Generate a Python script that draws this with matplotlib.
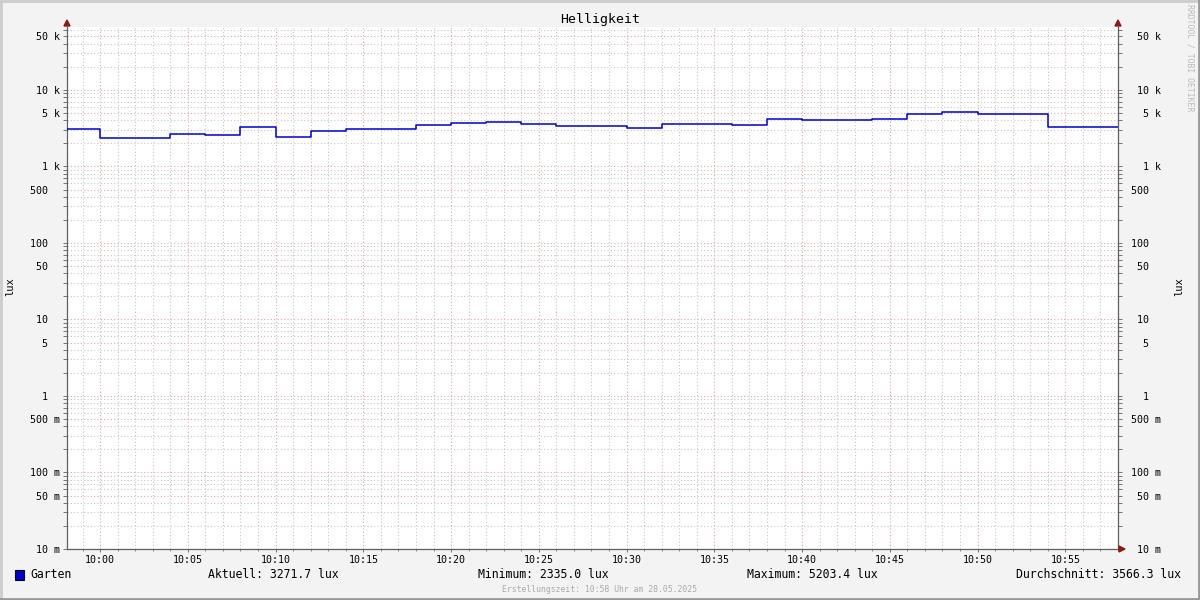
import matplotlib
matplotlib.use("Agg")
import matplotlib.pyplot as plt
import matplotlib.dates as mdates
from matplotlib.lines import Line2D
from matplotlib.patches import Rectangle, Polygon
import numpy as np
from datetime import datetime, timedelta

# ---- data ----
title = "Helligkeit"
series_name = "Garten"
start_time = "2025-05-28 09:58:00"
view_start = "2025-05-28 09:58:07"
end_time = "2025-05-28 10:58:00"
step_minutes = 2
values = [3100, 2335, 2373, 2675, 2593, 3290, 2444, 2925, 3062, 3062,
          3491, 3706, 3823, 3597, 3388, 3388, 3190, 3597, 3597, 3491,
          4131, 4055, 4055, 4178, 4856, 5203.4, 4856, 4856, 3271.7, 3271.7]
ytick_values = [0.01, 0.05, 0.1, 0.5, 1, 5, 10, 50, 100, 500, 1000, 5000, 10000, 50000]
ytick_labels = ["10 m", "50 m", "100 m", "500 m", "1  ", "5  ", "10  ", "50  ",
                "100  ", "500  ", "1 k", "5 k", "10 k", "50 k"]
ytick_labels_right = ["  10 m", "  50 m", " 100 m", " 500 m", "   1  ", "   5  ",
                      "  10  ", "  50  ", " 100  ", " 500  ", "   1 k", "   5 k",
                      "  10 k", "  50 k"]
stats_text = ["Aktuell: 3271.7 lux", "Minimum: 2335.0 lux",
              "Maximum: 5203.4 lux", "Durchschnitt: 3566.3 lux"]
footer = "Erstellungszeit: 10:58 Uhr am 28.05.2025"
watermark = "RRDTOOL / TOBI OETIKER"
y_unit = "lux"

MONO = "DejaVu Sans Mono"
BG = "#F3F3F3"
LINE = "#0000CC"
MAJ = "#E8A8A8"
MIN = "#C8C8C8"
AXC = "#606060"
ARROW = "#8B1A1A"

fmt = "%Y-%m-%d %H:%M:%S"
t0 = datetime.strptime(start_time, fmt)
tv = datetime.strptime(view_start, fmt)
t1 = datetime.strptime(end_time, fmt)
edges = [t0 + timedelta(minutes=step_minutes * i) for i in range(len(values) + 1)]
xs = mdates.date2num(edges)
ys = list(values) + [values[-1]]

fig = plt.figure(figsize=(12, 6), dpi=100, facecolor=BG)
W, H = 1200, 600
ax = fig.add_axes([67 / W, 51 / H, (1118 - 67) / W, (549 - 27) / H])
ax.set_facecolor("white")
ax.set_yscale("log")
ax.set_xlim(mdates.date2num(tv), mdates.date2num(t1))
ax.set_ylim(0.01, 10 ** 4.823)

# grid
ax.xaxis.set_major_locator(mdates.MinuteLocator(byminute=range(0, 60, 5)))
ax.xaxis.set_minor_locator(mdates.MinuteLocator())
ax.xaxis.set_major_formatter(mdates.DateFormatter("%H:%M"))
ax.set_yticks(ytick_values)
ax.set_yticklabels(ytick_labels)
minor_y = []
for d in range(-2, 5):
    for m in (2, 3, 4, 6, 7, 8, 9):
        v = m * 10.0 ** d
        if v < 10 ** 4.823:
            minor_y.append(v)
ax.set_yticks(minor_y, minor=True)
ax.yaxis.set_minor_formatter(plt.NullFormatter())

ax.grid(which="minor", axis="both", color=MIN, linestyle=(0, (1, 2)), linewidth=0.8)
ax.grid(which="major", axis="both", color=MAJ, linestyle=(0, (1, 2)), linewidth=0.8)
ax.set_axisbelow(True)

ax.tick_params(axis="y", which="both", direction="out", length=3, width=0.6,
               color=AXC, labelsize=7.2, pad=2)
ax.tick_params(axis="x", which="major", direction="out", length=2, width=0.6,
               color=AXC, labelsize=7.2, pad=2)
ax.tick_params(axis="x", which="minor", direction="out", length=1.5, width=0.5, color=AXC)
for lab in ax.get_yticklabels() + ax.get_xticklabels():
    lab.set_family(MONO)

ax.spines["top"].set_visible(False)
for s in ("left", "right", "bottom"):
    ax.spines[s].set_color(AXC)
    ax.spines[s].set_linewidth(0.9)

# right axis labels
ax2 = ax.twinx()
ax2.set_yscale("log")
ax2.set_ylim(ax.get_ylim())
ax2.set_yticks(ytick_values)
ax2.set_yticklabels(ytick_labels_right)
ax2.set_yticks(minor_y, minor=True)
ax2.yaxis.set_minor_formatter(plt.NullFormatter())
ax2.tick_params(axis="y", which="both", direction="out", length=3, width=0.6,
                color=AXC, labelsize=7.2, pad=2)
for lab in ax2.get_yticklabels():
    lab.set_family(MONO)
    lab.set_horizontalalignment("left")
for s in ax2.spines.values():
    s.set_visible(False)

# data line
ax.step(xs, ys, where="post", color=LINE, linewidth=1.1, zorder=5)

# axis labels
fig.text(10 / W, 1 - 287 / H, y_unit, rotation=90, ha="center", va="center",
         family=MONO, fontsize=7.5)
fig.text(1179 / W, 1 - 287 / H, y_unit, rotation=90, ha="center", va="center",
         family=MONO, fontsize=7.5)

# title
fig.text(600 / W, 1 - 19 / H, title, ha="center", va="center", family=MONO, fontsize=9.5)

# arrows
def tri(pts, color=ARROW):
    fig.patches.append(Polygon([(x / W, 1 - y / H) for x, y in pts], closed=True,
                               transform=fig.transFigure, color=color, zorder=10))
tri([(64, 26), (70, 26), (67, 20)])
tri([(1115, 26), (1121, 26), (1118, 20)])
tri([(1119, 546), (1119, 552), (1125, 549)])

# legend row
fig.patches.append(Rectangle((15 / W, 1 - 580 / H), 9 / W, 10 / H, transform=fig.transFigure,
                             facecolor=LINE, edgecolor="black", linewidth=0.8))
fig.text(30 / W, 1 - 575 / H, series_name, ha="left", va="center", family=MONO, fontsize=8.3)
stat_x = [208, 478, 747, 1016]
for sx, st in zip(stat_x, stats_text):
    fig.text(sx / W, 1 - 575 / H, st, ha="left", va="center", family=MONO, fontsize=8.3)

fig.text(600 / W, 1 - 589 / H, footer, ha="center", va="center", family=MONO,
         fontsize=5.9, color="#AAAAAA")
fig.text(1190 / W, 1 - 4 / H, watermark, rotation=270, ha="center", va="top",
         family=MONO, fontsize=5.9, color="#BBBBBB")

# 3D border
fig.add_artist(Line2D([0, 1], [1 - 1 / H, 1 - 1 / H], transform=fig.transFigure, color="#CCCCCC", lw=2))
fig.add_artist(Line2D([1 / W, 1 / W], [0, 1], transform=fig.transFigure, color="#CCCCCC", lw=2))
fig.add_artist(Line2D([0, 1], [1 / H, 1 / H], transform=fig.transFigure, color="#999999", lw=2))
fig.add_artist(Line2D([1 - 1 / W, 1 - 1 / W], [0, 1], transform=fig.transFigure, color="#999999", lw=2))

fig.savefig("out.png", dpi=100, facecolor=BG)
